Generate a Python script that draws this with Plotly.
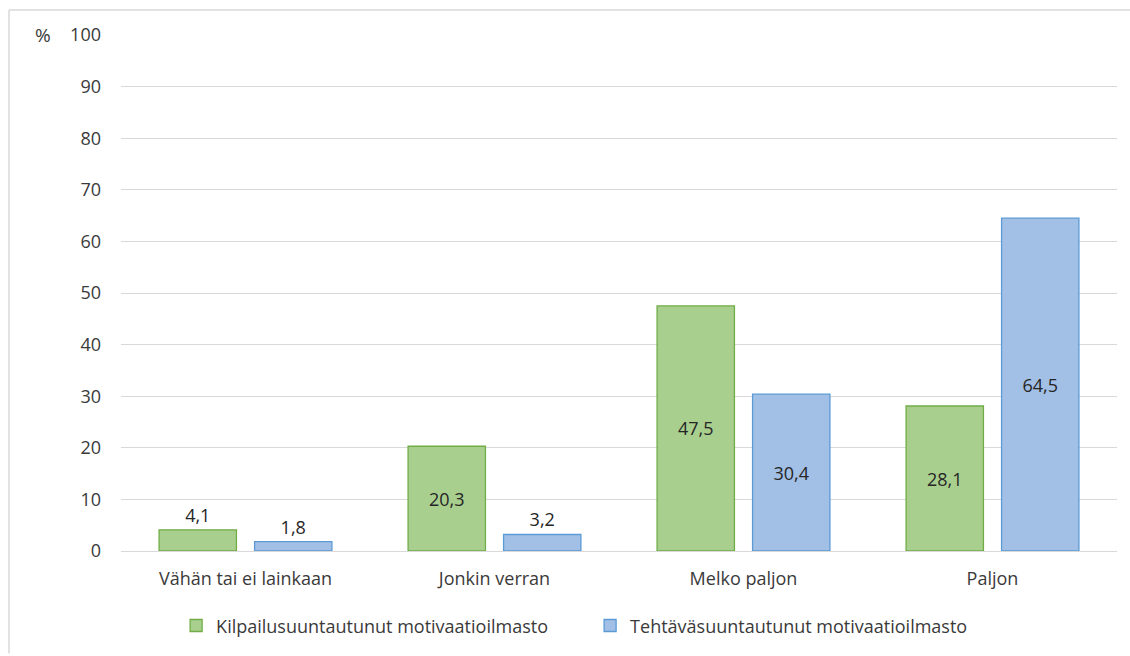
import plotly.graph_objects as go

categories = ["Vähän tai ei lainkaan", "Jonkin verran", "Melko paljon", "Paljon"]
kilpailu = [4.1, 20.3, 47.5, 28.1]
tehtava = [1.8, 3.2, 30.4, 64.5]
series_names = ["Kilpailusuuntautunut motivaatioilmasto", "Tehtäväsuuntautunut motivaatioilmasto"]
y_ticks = [0, 10, 20, 30, 40, 50, 60, 70, 80, 90, 100]

FONT = "'Open Sans', sans-serif"
TEXT = "#3A3A3A"

def fmt(v):
    return f"{v:.1f}".replace(".", ",")

def positions(vals):
    return ["outside" if v < 10 else "inside" for v in vals]

fig = go.Figure()
fig.add_trace(go.Bar(
    x=categories, y=kilpailu, name=series_names[0],
    marker=dict(color="#A9CF8F", line=dict(color="#70AD47", width=1.3)),
    text=[fmt(v) for v in kilpailu], textposition=positions(kilpailu),
    insidetextanchor="middle", constraintext="none", cliponaxis=False,
    textfont=dict(family=FONT, size=18, color="#262626"),
))
fig.add_trace(go.Bar(
    x=categories, y=tehtava, name=series_names[1],
    marker=dict(color="#A2BFE5", line=dict(color="#5B9BD5", width=1.3)),
    text=[fmt(v) for v in tehtava], textposition=positions(tehtava),
    insidetextanchor="middle", constraintext="none", cliponaxis=False,
    textfont=dict(family=FONT, size=18, color="#262626"),
))

W, H = 1130, 656
ml, mr, mt, mb = 121, 13, 35, 103
pw, ph = W - ml - mr, H - mt - mb

fig.update_layout(
    width=W, height=H,
    margin=dict(l=ml, r=mr, t=mt, b=mb),
    paper_bgcolor="white", plot_bgcolor="white",
    barmode="group", bargap=0.233, bargroupgap=0.19,
    font=dict(family=FONT, size=18, color=TEXT),
    showlegend=True,
    legend=dict(orientation="h", x=0.471, xanchor="center", y=-0.145, yanchor="middle",
                font=dict(family=FONT, size=18, color=TEXT),
                itemwidth=30, tracegroupgap=0, entrywidth=369, entrywidthmode="pixels"),
    xaxis=dict(showgrid=False, showline=False, ticks="", tickfont=dict(size=18, color=TEXT),
               ticklabelstandoff=15),
    yaxis=dict(range=[0, 100], tickvals=y_ticks, showgrid=True, gridcolor="#D9D9D9", gridwidth=1.3,
               zeroline=True, zerolinecolor="#D9D9D9", zerolinewidth=1.3,
               showline=False, ticks="", tickfont=dict(size=18, color=TEXT),
               ticklabelstandoff=19),
    annotations=[dict(text="%", xref="paper", yref="paper", x=(43 - ml) / pw, y=1.0,
                      xanchor="center", yanchor="middle", showarrow=False,
                      font=dict(family=FONT, size=19, color=TEXT))],
    shapes=[
        dict(type="line", xref="paper", yref="paper", x0=(9 - ml) / pw, x1=(W - ml) / pw,
             y0=1 + (mt - 10) / ph, y1=1 + (mt - 10) / ph, line=dict(color="#D9D9D9", width=1.5)),
        dict(type="line", xref="paper", yref="paper", x0=(9 - ml) / pw, x1=(9 - ml) / pw,
             y0=1 + (mt - 10) / ph, y1=-mb / ph, line=dict(color="#D9D9D9", width=1.5)),
    ],
)

fig.write_html("out.html")
